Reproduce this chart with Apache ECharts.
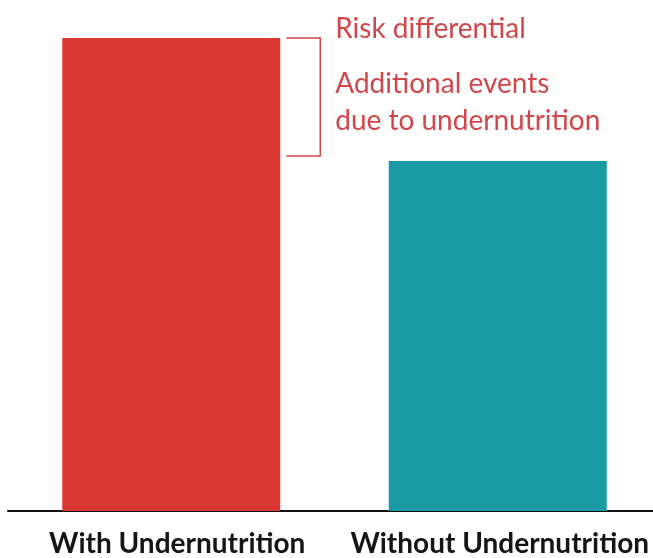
<!DOCTYPE html>
<html>
<head>
<meta charset="utf-8">
<script src="https://cdn.jsdelivr.net/npm/echarts@6/dist/echarts.min.js"></script>
<style>
  html, body { margin: 0; padding: 0; background: #ffffff; overflow: hidden; }
  #chart { width: 661px; height: 558px; }
</style>
</head>
<body>
<div id="chart"></div>
<script>
// Event risk with and without undernutrition (relative scale)
const categories = ['With Undernutrition', 'Without Undernutrition'];
const riskValues = [100, 74];
const barColors = ['#d93932', '#1a9ba3'];
const diffTitle = 'Risk differential';
const diffNote = 'Additional events\ndue to undernutrition';

const accent = '#d2464a';
const fontFamily = 'Lato, "Open Sans", sans-serif';
const barWidth = 218;
// small rightward nudge of each category label
const labelNudge = [12, 4];

const chart = echarts.init(document.getElementById('chart'));

chart.setOption({
  animation: false,
  backgroundColor: '#ffffff',
  grid: { left: 8, right: 0, top: 38, bottom: 43, containLabel: false },
  xAxis: {
    type: 'category',
    data: categories.map((c, i) => ({
      value: c,
      textStyle: { padding: [0, 0, 0, labelNudge[i]] }
    })),
    axisLine: { lineStyle: { color: '#111111', width: 2 } },
    axisTick: { show: false },
    axisLabel: {
      interval: 0,
      color: '#151515',
      fontFamily: fontFamily,
      fontWeight: 'bold',
      fontSize: 28,
      margin: 19
    }
  },
  yAxis: {
    type: 'value',
    min: 0,
    max: 100,
    show: false
  },
  series: [
    {
      type: 'bar',
      barWidth: barWidth,
      data: riskValues.map((v, i) => ({ value: v, itemStyle: { color: barColors[i] } }))
    },
    {
      // Bracket spanning the gap between the two bar heights
      type: 'custom',
      data: [[0, riskValues[0], riskValues[1]]],
      renderItem: function (params, api) {
        const top = api.coord([api.value(0), api.value(1)]);
        const bottom = api.coord([api.value(0), api.value(2)]);
        const x0 = top[0] + barWidth / 2 + 6;
        const x1 = x0 + 34;
        const yTop = top[1];
        const yBot = bottom[1] - 5;
        return {
          type: 'group',
          children: [
            {
              type: 'polyline',
              shape: { points: [[x0, yTop], [x1, yTop], [x1, yBot], [x0, yBot]] },
              style: { stroke: accent, lineWidth: 1.5, fill: null }
            },
            {
              type: 'text',
              style: {
                x: x1 + 15, y: yTop - 9,
                text: diffTitle,
                fill: accent,
                font: '28px ' + fontFamily,
                textVerticalAlign: 'middle'
              }
            },
            {
              type: 'text',
              style: {
                x: x1 + 15, y: (yTop + yBot) / 2 + 5,
                text: diffNote,
                fill: accent,
                font: '28px ' + fontFamily,
                lineHeight: 37,
                textVerticalAlign: 'middle'
              }
            }
          ]
        };
      }
    }
  ]
});
</script>
</body>
</html>
